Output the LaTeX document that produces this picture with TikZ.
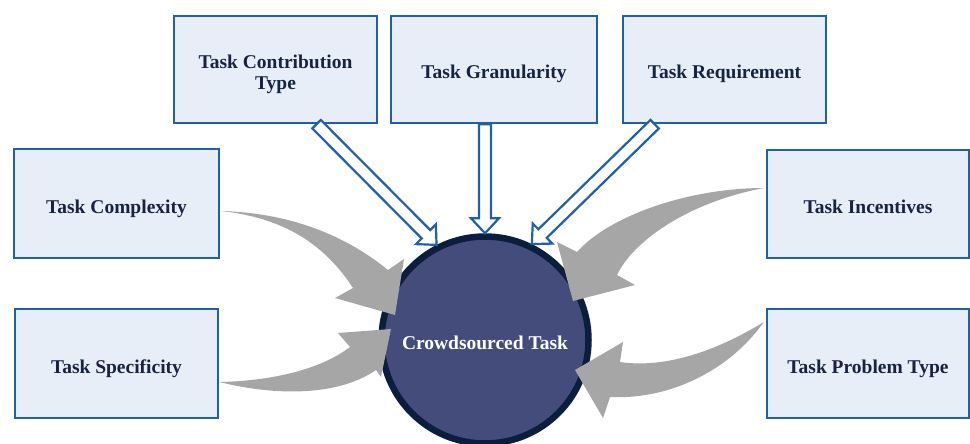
\documentclass[tikz,border=0pt]{standalone}
\usepackage{fontspec}
\setmainfont{Liberation Serif}
\usetikzlibrary{calc}

\definecolor{boxfill}{RGB}{231,238,248}
\definecolor{boxline}{RGB}{30,96,170}
\definecolor{labelcol}{RGB}{22,36,66}
\definecolor{hubfill}{RGB}{68,76,124}
\definecolor{hubline}{RGB}{12,30,62}
\definecolor{flowgray}{RGB}{166,166,166}

\tikzset{
  factor/.style={draw=boxline, line width=2.4pt, fill=boxfill, inner sep=0pt,
    text=labelcol, align=center,
    font=\bfseries\fontsize{19.5}{21}\selectfont},
  oneline/.style={text height=23.5pt, text depth=4.5pt},
  twoline/.style={text height=44.5pt, text depth=4.5pt},
  hub/.style={circle, draw=hubline, line width=6.5pt, fill=hubfill, inner sep=0pt,
    minimum size=207pt, text=white, text height=23.5pt, text depth=4.5pt,
    font=\bfseries\fontsize{19.5}{21}\selectfont},
  hollow/.style={draw=boxline, line width=2.2pt, fill=white, line join=miter},
  curved/.style={fill=flowgray, draw=none}
}

% outlined block arrow from #1 to #2
\newcommand\hollowarrow[2]{%
  \coordinate (hm) at ($(#2)!15pt!(#1)$);
  \draw[hollow] ($(#1)!6pt!90:(#2)$) -- ($(hm)!6pt!-90:(#1)$)
    -- ($(hm)!14pt!-90:(#1)$) -- (#2) -- ($(hm)!14pt!90:(#1)$)
    -- ($(hm)!6pt!90:(#1)$) -- ($(#1)!6pt!-90:(#2)$) -- cycle;
}

\begin{document}
\begin{tikzpicture}[x=1pt, y=-1pt]
\useasboundingbox (0,0) rectangle (970,444);

% factor boxes
\node[factor, twoline, minimum width=203pt, minimum height=107pt] (contrib) at (275.5,69.5) {Task Contribution\\Type};
\node[factor, oneline, minimum width=206pt, minimum height=107pt] (gran) at (494,69.5) {Task Granularity};
\node[factor, oneline, minimum width=203pt, minimum height=107pt] (req) at (724.5,69.5) {Task Requirement};
\node[factor, oneline, minimum width=205pt, minimum height=109pt] (cplx) at (116.5,203.5) {Task Complexity};
\node[factor, oneline, minimum width=203pt, minimum height=109pt] (spec) at (116.5,363.5) {Task Specificity};
\node[factor, oneline, minimum width=202pt, minimum height=108pt] (inc) at (868,204) {Task Incentives};
\node[factor, oneline, minimum width=202pt, minimum height=109pt] (prob) at (868,363.5) {Task Problem Type};

% central task
\node[hub] (c) at (485,340) {Crowdsourced Task};

% curved gray arrows
\coordinate (tA) at ($(cplx.east)+(1,7.5)$);
\fill[curved] (tA) .. controls (290,213) and (345,235) .. (388,270)
  -- (404,259) -- (395,315) -- (335,298) -- (353,288)
  .. controls (325,245) and (285,218) .. (tA) -- cycle;

\coordinate (tB) at ($(spec.east)+(0,18.5)$);
\fill[curved] (tB) .. controls (280,397) and (340,395) .. (376,370)
  -- (381,377) -- (391,329) -- (338,333) -- (350,347)
  .. controls (320,370) and (270,381) .. (tB) -- cycle;

\coordinate (tC) at ($(inc.west)+(-2,-16)$);
\fill[curved] (tC) .. controls (690,188) and (610,215) .. (577,252)
  -- (557,242) -- (573,301) -- (635,285) -- (617,275)
  .. controls (632,243) and (685,203) .. (tC) -- cycle;

\coordinate (tD) at ($(prob.west)+(-2,-41.5)$);
\fill[curved] (tD) .. controls (710,355) and (660,368) .. (620,362)
  -- (623,342) -- (575,370) -- (603,418) -- (610,397)
  .. controls (670,400) and (730,370) .. (tD) -- cycle;

% outlined arrows from the top row
\coordinate (sA) at ($(contrib.south west)!0.70!(contrib.south east)$);
\coordinate (sB) at (gran.south -| c.north);
\coordinate (sC) at ($(req.south west)!0.16!(req.south east)$);
\hollowarrow{sA}{c.117}
\hollowarrow{sB}{c.north}
\hollowarrow{sC}{c.64}
\end{tikzpicture}
\end{document}
